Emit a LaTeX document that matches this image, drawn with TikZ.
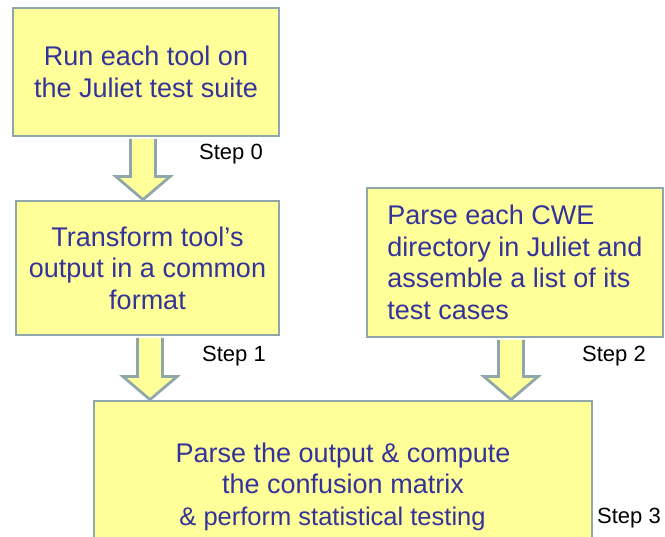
\documentclass[tikz,border=0pt]{standalone}
\usepackage{fontspec}
\setmainfont{Liberation Sans}
\usetikzlibrary{positioning, calc}

\definecolor{boxfill}{RGB}{255,255,153}
\definecolor{boxline}{RGB}{143,167,171}
\definecolor{boxtext}{RGB}{51,51,153}

% block arrow: #1 = x of the shaft, #2 = upper box, #3 = lower box
\newcommand{\stepArrow}[3]{%
  \path (#2.south -| #1,0) coordinate (top) (#3.north -| #1,0) coordinate (tip);
  \draw[flow] ($(top)+(-12.5,1.5)$) -- ($(tip)+(-12.5,-23)$) -- ($(tip)+(-27,-23)$)
    -- (tip) -- ($(tip)+(27,-23)$) -- ($(tip)+(12.5,-23)$) -- ($(top)+(12.5,1.5)$);}

\begin{document}
\begin{tikzpicture}[x=1pt, y=-1pt,
    box/.style={draw=boxline, line width=2.75pt, fill=boxfill, text=boxtext,
      font=\fontsize{27}{31.5}\selectfont, align=center, inner sep=0pt},
    flow/.style={draw=boxline, line width=2.75pt, fill=boxfill, line join=miter},
    steplabel/.style={font=\fontsize{22}{26}\selectfont, anchor=base, inner sep=0pt}]
  \useasboundingbox (0,0) rectangle (665,537);
  \clip (0,0) rectangle (665,537);

  \node[box, minimum width=266, minimum height=128] (run) at (146,72)
    {Run each tool on\\the Juliet test suite};
  \node[box, minimum width=263, minimum height=134] (transform) at (147.5,268)
    {Transform tool's\\output in a common\\format};
  \node[box, align=left, minimum width=296, minimum height=149] (parse) at (515,262.5)
    {Parse each CWE\\directory in Juliet and\\assemble a list of its\\test cases};
  \node[box, minimum width=498, minimum height=171] (matrix) at (343,486.5)
    {Parse the output \& compute\\the confusion matrix\\
     \hspace*{-21pt}{\fontsize{25.5}{31.5}\selectfont\& perform statistical testing}};

  \stepArrow{143}{run}{transform}
  \stepArrow{150}{transform}{matrix}
  \stepArrow{511}{parse}{matrix}

  \node[steplabel] (step0) at (231,160) {Step 0};
  \node[steplabel] (step1) at (234,362) {Step 1};
  \node[steplabel] (step2) at (614,361.5) {Step 2};
  \node[steplabel] (step3) at (629,524) {Step 3};
\end{tikzpicture}
\end{document}
